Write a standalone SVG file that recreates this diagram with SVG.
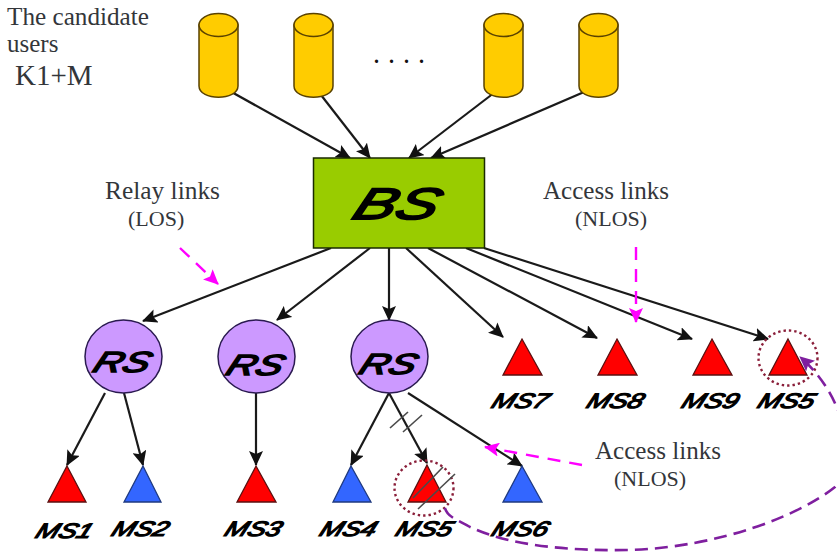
<svg xmlns="http://www.w3.org/2000/svg" width="837" height="554" viewBox="0 0 837 554">
<style>
.t{font-family:"Liberation Serif","Times New Roman",serif;fill:#33363a}
.lk{stroke:#1a1a1a;stroke-width:2.200;fill:none;marker-end:url(#a)}
.cyl{fill:#fc0;stroke:#5a4200;stroke-width:1.500}
.ms{font-family:"Liberation Sans",Arial,sans-serif;font-weight:400;font-style:italic;font-size:21px;fill:#000;stroke:#000;stroke-width:1.200;text-anchor:middle}
.r{fill:#f00;stroke:#5a1010;stroke-width:1.300}
.b{fill:#36f;stroke:#1f3a80;stroke-width:1.300}
.rs{fill:#c9f;stroke:#2a1a50;stroke-width:1.500}
.mg{stroke:#f0f;stroke-width:2.400;stroke-dasharray:13 9;fill:none;marker-end:url(#m)}
.dot{fill:none;stroke:#8a1f3a;stroke-width:2.400;stroke-dasharray:2.400 3}
.sl{stroke:#4a4a4a;stroke-width:1.600}
</style>
<defs>
<marker id="a" markerUnits="userSpaceOnUse" markerWidth="15" markerHeight="14" refX="14" refY="7" orient="auto"><path d="M0 0L15 7L0 14L3 7Z" fill="#111"/></marker>
<marker id="m" markerUnits="userSpaceOnUse" markerWidth="15" markerHeight="14" refX="14" refY="7" orient="auto"><path d="M0 0L15 7L0 14L3 7Z" fill="#f0f"/></marker>
<marker id="p" markerUnits="userSpaceOnUse" markerWidth="15" markerHeight="14" refX="14" refY="7" orient="auto"><path d="M0 0L15 7L0 14L3 7Z" fill="#7f1f9f"/></marker>
<g id="c"><path class="cyl" d="M0 12V73C0 88 39 88 39 73V12Z"/><ellipse class="cyl" cx="19.500" cy="12" rx="19.500" ry="11.500"/></g>
</defs>
<g id="connectors">
<line class="lk" x1="219" y1="85" x2="350" y2="158"/>
<line class="lk" x1="314" y1="86" x2="370" y2="158"/>
<line class="lk" x1="503" y1="86" x2="409" y2="158"/>
<line class="lk" x1="598" y1="86" x2="431" y2="158"/>
<line class="lk" x1="331" y1="248" x2="143" y2="321"/>
<line class="lk" x1="370" y1="248" x2="277" y2="320"/>
<line class="lk" x1="389" y1="248" x2="389" y2="320"/>
<line class="lk" x1="406" y1="248" x2="503" y2="337"/>
<line class="lk" x1="428" y1="248" x2="597" y2="338"/>
<line class="lk" x1="466" y1="248" x2="692" y2="339"/>
<line class="lk" x1="484" y1="248" x2="768" y2="339"/>
<line class="lk" x1="105" y1="393" x2="67" y2="465"/>
<line class="lk" x1="124" y1="393" x2="143" y2="465"/>
<line class="lk" x1="256" y1="393" x2="256" y2="465"/>
<line class="lk" x1="389" y1="393" x2="351" y2="465"/>
<line class="lk" x1="389" y1="393" x2="427" y2="463"/>
<line class="lk" x1="408" y1="393" x2="522" y2="466"/>
<line class="mg" x1="180" y1="248" x2="218" y2="284"/>
<line class="mg" x1="636" y1="247" x2="636" y2="322"/>
<line class="mg" x1="582" y1="465" x2="485" y2="447"/>
<line class="sl" x1="390" y1="428" x2="408" y2="412"/>
<line class="sl" x1="403" y1="432" x2="422" y2="415"/>
</g>
<g id="cyl1"><use href="#c" x="199" y="13"/></g>
<g id="cyl2"><use href="#c" x="294" y="13"/></g>
<g id="cyl3"><use href="#c" x="484" y="13"/></g>
<g id="cyl4"><use href="#c" x="579" y="13"/></g>
<g id="bs"><rect x="313.500" y="158" width="171" height="90" fill="#9c0" stroke="#1a2a00" stroke-width="1.500"/>
<text transform="translate(392,219) skewX(-22)" class="ms" textLength="84" lengthAdjust="spacingAndGlyphs" style="font-size:44px;stroke-width:1.800">BS</text></g>
<g id="rs1"><ellipse class="rs" cx="123.500" cy="356.500" rx="38.500" ry="36.500"/><text transform="translate(119,372) skewX(-22)" class="ms" textLength="56" lengthAdjust="spacingAndGlyphs" style="font-size:29px;stroke-width:1.500">RS</text></g>
<g id="rs2"><ellipse class="rs" cx="256.500" cy="356.500" rx="38.500" ry="36.500"/><text transform="translate(252,375) skewX(-22)" class="ms" textLength="56" lengthAdjust="spacingAndGlyphs" style="font-size:29px;stroke-width:1.500">RS</text></g>
<g id="rs3"><ellipse class="rs" cx="389.500" cy="356.500" rx="38.500" ry="36.500"/><text transform="translate(385,374) skewX(-22)" class="ms" textLength="56" lengthAdjust="spacingAndGlyphs" style="font-size:29px;stroke-width:1.500">RS</text></g>
<g id="ms1"><path class="r" d="M67 466L86 502H48Z"/><text class="ms" transform="translate(62,538) skewX(-22)" textLength="56" lengthAdjust="spacingAndGlyphs">MS1</text></g>
<g id="ms2"><path class="b" d="M143 466L161 502H124Z"/><text class="ms" transform="translate(138,536) skewX(-22)" textLength="56" lengthAdjust="spacingAndGlyphs">MS2</text></g>
<g id="ms3"><path class="r" d="M256 466L276 502H237Z"/><text class="ms" transform="translate(251,536) skewX(-22)" textLength="56" lengthAdjust="spacingAndGlyphs">MS3</text></g>
<g id="ms4"><path class="b" d="M351 466L371 502H333Z"/><text class="ms" transform="translate(346,536) skewX(-22)" textLength="56" lengthAdjust="spacingAndGlyphs">MS4</text></g>
<g id="ms5a"><path class="r" d="M427 465L446 502H408Z"/><ellipse class="dot" cx="424" cy="488" rx="29.500" ry="27.500"/><line class="sl" x1="413" y1="498" x2="443" y2="467"/><line class="sl" x1="418" y1="509" x2="455" y2="474"/><text class="ms" transform="translate(422,536) skewX(-22)" textLength="56" lengthAdjust="spacingAndGlyphs">MS5</text></g>
<g id="ms6"><path class="b" d="M522 466L542 502H503Z"/><text class="ms" transform="translate(518,536) skewX(-22)" textLength="56" lengthAdjust="spacingAndGlyphs">MS6</text></g>
<g id="ms7"><path class="r" d="M522 339L542 375H503Z"/><text class="ms" transform="translate(518,408) skewX(-22)" textLength="56" lengthAdjust="spacingAndGlyphs">MS7</text></g>
<g id="ms8"><path class="r" d="M617 339L637 375H598Z"/><text class="ms" transform="translate(613,408) skewX(-22)" textLength="56" lengthAdjust="spacingAndGlyphs">MS8</text></g>
<g id="ms9"><path class="r" d="M712 339L732 375H693Z"/><text class="ms" transform="translate(708,408) skewX(-22)" textLength="56" lengthAdjust="spacingAndGlyphs">MS9</text></g>
<g id="ms5b"><path class="r" d="M788 339L807 375H769Z"/><ellipse class="dot" cx="788" cy="358" rx="29.500" ry="27.500"/><text class="ms" transform="translate(784,408) skewX(-22)" textLength="56" lengthAdjust="spacingAndGlyphs">MS5</text></g>
<path d="M445 508C447 517 458 520 470 527C510 546 570 551 630 550C720 547 800 515 835 487C856 462 848 398 800 357" fill="none" stroke="#7f1f9f" stroke-width="2.600" stroke-dasharray="13 7" marker-end="url(#p)"/>
<text class="t" x="7" y="25" font-size="25" textLength="142" lengthAdjust="spacingAndGlyphs">The candidate</text>
<text class="t" x="7" y="52" font-size="25">users</text>
<text class="t" x="15" y="85" font-size="29">K1+M</text>
<text class="t" x="374" y="63" font-size="20" font-weight="700" style="letter-spacing:10px;fill:#111">....</text>
<text class="t" x="105" y="199" font-size="25" textLength="115" lengthAdjust="spacingAndGlyphs">Relay links</text>
<text class="t" x="128" y="226" font-size="22">(LOS)</text>
<text class="t" x="543" y="199" font-size="25" textLength="126" lengthAdjust="spacingAndGlyphs">Access links</text>
<text class="t" x="575" y="226" font-size="22">(NLOS)</text>
<text class="t" x="595" y="459" font-size="25" textLength="126" lengthAdjust="spacingAndGlyphs">Access links</text>
<text class="t" x="614" y="486" font-size="22">(NLOS)</text>
</svg>
